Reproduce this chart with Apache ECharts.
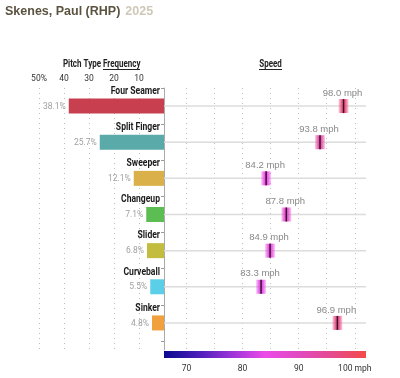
<!DOCTYPE html>
<html><head><meta charset="utf-8">
<script src="https://cdn.jsdelivr.net/npm/echarts@6/dist/echarts.min.js"></script>
<style>html,body{margin:0;padding:0;background:#fff}#c{width:400px;height:378px}</style>
</head><body><div id="c"></div>
<script>
const pitchTypes = ['Four Seamer','Split Finger','Sweeper','Changeup','Slider','Curveball','Sinker'];
const frequency = [38.1, 25.7, 12.1, 7.1, 6.8, 5.5, 4.8];
const speed = [98.0, 93.8, 84.2, 87.8, 84.9, 83.3, 96.9];
const pitchColors = ['#c8404f','#5aaaa9','#d9b04a','#5cbd52','#c2bd3e','#5ccfe8','#f0a03c'];
const freqTicks = [10, 20, 30, 40, 50];
const speedGridTicks = [70, 75, 80, 85, 90, 95, 100];
const speedLabelTicks = [70, 80, 90, 100];
const speedDomain = [66, 102];
const freqDomain = [0, 50];
const titleName = 'Skenes, Paul (RHP)';
const titleYear = '2025';

const COND = "Roboto,sans-serif";
const SANS = "'Liberation Sans',Helvetica,Arial,sans-serif";
const NARROW = 0.8;
const scaleColors = ['#0a0a90','#4a1cb8','#9a34d8','#ec4ae8','#e04ac0','#e64a8e','#f44a48'];
const gradStops = scaleColors.map((c, i) => ({offset: i / (scaleColors.length - 1), color: c}));

const chart = echarts.init(document.getElementById('c'), null, {renderer: 'canvas'});
const dotted = {show: true, lineStyle: {type: [1, 4], color: '#bdbdbd', width: 1}};

const option = {
  animation: false,
  title: {
    left: 5, top: 3, padding: 0,
    text: '{a|' + titleName + '} {b|' + titleYear + '}',
    textStyle: {rich: {
      a: {fontFamily: SANS, fontWeight: 'bold', fontSize: 12.5, color: '#5b5340'},
      b: {fontFamily: SANS, fontWeight: 'bold', fontSize: 12.5, color: '#cfc8b8'}
    }}
  },
  graphic: [
    {type: 'text', x: 101, y: 64, scaleX: NARROW, style: {text: 'Pitch Type', align: 'right', verticalAlign: 'middle', font: 'bold 10px ' + COND, fill: '#222'}},
    {type: 'text', x: 103, y: 64, scaleX: NARROW, style: {text: 'Frequency', align: 'left', verticalAlign: 'middle', font: 'bold 10px ' + COND, fill: '#222'}},
    {type: 'line', shape: {x1: 103, y1: 69.5, x2: 140, y2: 69.5}, style: {stroke: '#222', lineWidth: 1}},
    {type: 'text', x: 270.5, y: 64, scaleX: NARROW, style: {text: 'Speed', align: 'center', verticalAlign: 'middle', font: 'bold 10px ' + COND, fill: '#222'}},
    {type: 'line', shape: {x1: 259, y1: 69.5, x2: 282, y2: 69.5}, style: {stroke: '#222', lineWidth: 1}}
  ],
  grid: [
    {left: 39, top: 88, width: 125, height: 262},
    {left: 39, top: 88, width: 125, height: 253},
    {left: 164, top: 88, width: 202, height: 262},
    {left: 164, top: 88, width: 202, height: 253},
    {left: 164, top: 351, width: 202, height: 7}
  ],
  xAxis: [
    {gridIndex: 0, type: 'value', min: freqDomain[0], max: freqDomain[1], interval: 10, inverse: true, position: 'top',
     axisLine: {show: false}, axisTick: {show: false},
     axisLabel: {customValues: freqTicks, formatter: v => v === 50 ? '50%' : String(v), color: '#333', fontSize: 8.5, fontFamily: COND, margin: 5},
     splitLine: dotted},
    {gridIndex: 1, type: 'value', min: freqDomain[0], max: freqDomain[1], inverse: true, show: false},
    {gridIndex: 2, type: 'value', min: speedDomain[0], max: speedDomain[1],
     axisLine: {show: false}, axisTick: {show: false, customValues: speedGridTicks},
     axisLabel: {show: false, customValues: speedGridTicks}, splitLine: dotted},
    {gridIndex: 3, type: 'value', min: speedDomain[0], max: speedDomain[1], show: false},
    {gridIndex: 4, type: 'value', min: speedDomain[0], max: speedDomain[1],
     axisLine: {show: false}, axisTick: {show: false}, splitLine: {show: false},
     axisLabel: {customValues: speedLabelTicks, formatter: v => v === 100 ? '100 mph' : String(v), color: '#333', fontSize: 8.5, fontFamily: COND, margin: 6}}
  ],
  yAxis: [
    {gridIndex: 0, type: 'value', min: 0, max: 1, position: 'right', axisLine: {show: true, lineStyle: {color: '#aaa', width: 1}},
     axisTick: {show: false}, axisLabel: {show: false}, splitLine: {show: false}},
    {gridIndex: 1, type: 'category', data: pitchTypes, inverse: true, position: 'right',
     axisLine: {show: false}, axisTick: {show: true, inside: true, length: 3, lineStyle: {color: '#999'}},
     axisLabel: {show: false}, splitLine: {show: false}},
    {gridIndex: 2, type: 'value', min: 0, max: 1, show: false},
    {gridIndex: 3, type: 'category', data: pitchTypes, inverse: true, show: false},
    {gridIndex: 4, type: 'value', min: 0, max: 1, show: false}
  ],
  visualMap: {type: 'continuous', show: false, seriesIndex: 2, dimension: 0, min: speedDomain[0], max: speedDomain[1],
    inRange: {color: scaleColors}},
  series: [
    {type: 'bar', xAxisIndex: 1, yAxisIndex: 1, barWidth: 15,
     data: frequency.map((v, i) => ({value: v, itemStyle: {color: pitchColors[i]}}))},
    {type: 'custom', xAxisIndex: 1, yAxisIndex: 1, z: 5,
     data: frequency.map((v, i) => [v, i]),
     encode: {x: 0, y: 1},
     renderItem: function (params, api) {
       const v = api.value(0), idx = api.value(1);
       const e = api.coord([v, idx]);
       const z = api.coord([0, idx]);
       return {type: 'group', children: [
         {type: 'text', x: z[0] - 4, y: z[1] - 15, scaleX: 0.78,
          style: {text: pitchTypes[idx], align: 'right', verticalAlign: 'middle', font: 'bold 11px ' + COND, fill: '#1a1a1a'}},
         {type: 'text', x: e[0] - 3, y: e[1] + 0.5,
          style: {text: v.toFixed(1) + '%', align: 'right', verticalAlign: 'middle', font: '8.5px ' + COND, fill: '#a0a0a0'}}
       ]};
     }},
    {type: 'custom', xAxisIndex: 3, yAxisIndex: 3,
     data: speed.map((v, i) => [v, i]),
     encode: {x: 0, y: 1},
     renderItem: function (params, api) {
       const v = api.value(0), idx = api.value(1);
       const c = api.coord([v, idx]);
       const l = api.coord([speedDomain[0], idx]);
       const r = api.coord([speedDomain[1], idx]);
       const col = api.visual('color');
       const h = 14, w = 10;
       return {type: 'group', children: [
         {type: 'line', shape: {x1: l[0], y1: c[1], x2: r[0], y2: c[1]}, style: {stroke: '#dcdcdc', lineWidth: 1.5}},
         {type: 'rect', shape: {x: c[0] - w / 2, y: c[1] - h / 2, width: w, height: h},
          style: {fill: new echarts.graphic.LinearGradient(0, 0, 1, 0, [
            {offset: 0, color: echarts.color.modifyAlpha(col, 0.25)},
            {offset: 0.3, color: echarts.color.modifyAlpha(col, 0.85)},
            {offset: 0.5, color: col},
            {offset: 0.7, color: echarts.color.modifyAlpha(col, 0.85)},
            {offset: 1, color: echarts.color.modifyAlpha(col, 0.25)}])}},
         {type: 'line', shape: {x1: c[0], y1: c[1] - h / 2, x2: c[0], y2: c[1] + h / 2}, style: {stroke: '#3a1030', lineWidth: 1.5}},
         {type: 'text', x: c[0] - 1, y: c[1] - 13, style: {text: v.toFixed(1) + ' mph', align: 'center', verticalAlign: 'middle',
           font: '9.5px ' + SANS, fill: '#888'}}
       ]};
     }},
    {type: 'custom', xAxisIndex: 4, yAxisIndex: 4, data: [[speedDomain[0], speedDomain[1]]],
     renderItem: function (params, api) {
       const p0 = api.coord([api.value(0), 1]);
       const p1 = api.coord([api.value(1), 0]);
       return {type: 'rect', shape: {x: p0[0], y: p0[1], width: p1[0] - p0[0], height: p1[1] - p0[1]},
         style: {fill: new echarts.graphic.LinearGradient(0, 0, 1, 0, gradStops)}};
     }}
  ]
};
chart.setOption(option);
</script></body></html>
